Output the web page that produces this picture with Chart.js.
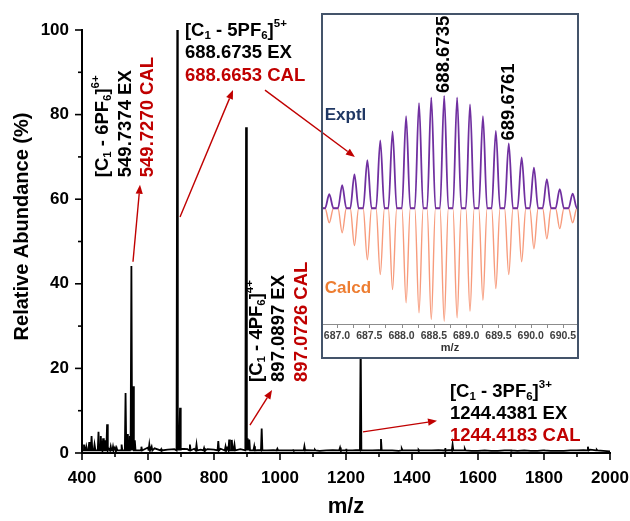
<!DOCTYPE html>
<html lang="en">
<head>
<meta charset="UTF-8">
<title>ESI-MS spectrum</title>
<script src="https://cdn.jsdelivr.net/npm/chart.js"></script>
<style>
  body { margin: 0; background: #fff; }
  #wrap { position: relative; width: 630px; height: 521px; }
  #main { position: absolute; left: 0; top: 0; }
  #insetBox { position: absolute; left: 321px; top: 13px; width: 258px; height: 346px;
              border: 2px solid #44546a; box-sizing: border-box; background: #fff; }
  #inset { display: block; }
</style>
</head>
<body>
<div id="wrap">
  <canvas id="main" width="630" height="521"></canvas>
  <div id="insetBox"><canvas id="inset" width="254" height="342"></canvas></div>
</div>

<script>
const FONT = '"Liberation Sans", Arial, sans-serif';
const RED = '#c00000';

// ---- main spectrum (m/z, relative abundance %)
const peakMz  = [406, 413, 422, 429, 438, 450, 457, 464, 470, 476, 487, 494, 505, 520, 532, 539, 545, 549.7, 555, 560,
                 580, 604, 611, 640, 688.7, 692, 697, 727, 747, 770, 813, 835, 846, 854, 862, 897.1, 902, 907, 922, 944.5,
                 992, 1040, 1074, 1106, 1182, 1200, 1244.4, 1306, 1369, 1420, 1500, 1523, 1560, 1700, 1800, 1933, 1960];
const peakAbd = [2, 1.5, 2.6, 4, 2, 5, 4, 3.5, 3, 6.8, 1.5, 1.5, 1.2, 2, 14.2, 4.5, 4, 44.2, 15.8, 3,
                 1.5, 2, 1.5, 1, 100, 3, 10.7, 2, 2, 1.2, 2.8, 1.5, 3.2, 3.1, 2, 77, 3.5, 3.2, 1.6, 5.8,
                 1, 0.8, 1.6, 0.8, 1.3, 1, 28, 3.3, 1, 0.8, 1.2, 2, 1, 0.8, 0.8, 1.5, 0.8];
// baseline noise, one value every 20 m/z from 400 to 2000
const noiseStart = 400, noiseStep = 20;
const noiseAbd = [0.6, 1.2, 1.0, 1.4, 1.1, 1.3, 0.9, 1.6, 1.2, 1.0, 1.3, 1.1, 0.9, 0.8, 0.9, 1.0, 0.9, 1.0, 0.8, 0.9,
                  0.8, 1.0, 1.2, 1.1, 0.9, 1.0, 0.8, 0.7, 0.6, 0.7, 0.6, 0.6, 0.7, 0.6, 0.7, 0.6, 0.5, 0.6, 0.7, 0.8,
                  0.7, 0.6, 0.7, 0.6, 0.6, 0.7, 0.6, 0.6, 0.5, 0.6, 0.6, 0.5, 0.6, 0.6, 0.7, 0.8, 0.7, 0.6, 0.6, 0.5,
                  0.5, 0.6, 0.5, 0.5, 0.6, 0.5, 0.5, 0.6, 0.5, 0.5, 0.6, 0.5, 0.5, 0.5, 0.6, 0.6, 0.7, 0.8, 0.6, 0.5, 0.4];
const xTicks = [400, 600, 800, 1000, 1200, 1400, 1600, 1800, 2000];
const yTicks = [0, 20, 40, 60, 80, 100];

// ---- inset: isotope pattern of [C1 - 5PF6]5+
const isoMz  = [686.88, 687.08, 687.27, 687.47, 687.67, 687.86, 688.07, 688.27, 688.46, 688.66,
                688.86, 689.06, 689.26, 689.46, 689.66, 689.86, 690.05, 690.25, 690.45, 690.65];
const exptl  = [12.4, 20.4, 30, 42.5, 60, 68, 81.4, 93, 98.2, 99.4, 98.2, 92, 81.4, 68.4, 57.3, 45, 36, 25.7, 17, 13];
const calcd  = [12.8, 21.6, 33, 45.5, 58.7, 72, 83.7, 92.6, 98.5, 100, 97, 91.2, 81.4, 71, 58.7, 47.3, 35.8, 27, 18, 12.8];
const isoLabels = [[9, '688.6735'], [14, '689.6761']];
const insetTicks = [687.0, 687.5, 688.0, 688.5, 689.0, 689.5, 690.0, 690.5];

// ---- annotations (anchored in data units of the main chart)
const notes = [
  { at: [463.6, 65.2], rot: true, gap: 22.5, lines: [
      [[['[C'], ['1', 'sub'], [' - 6PF'], ['6', 'sub'], [']'], ['6+', 'sup']], '#000'],
      [[['549.7374 EX']], '#000'],
      [[['549.7270 CAL']], RED]] },
  { at: [712, 99.8], rot: false, gap: 22.5, lines: [
      [[['[C'], ['1', 'sub'], [' - 5PF'], ['6', 'sub'], [']'], ['5+', 'sup']], '#000'],
      [[['688.6735 EX']], '#000'],
      [[['688.6653 CAL']], RED]] },
  { at: [929.4, 16.8], rot: true, gap: 22.5, lines: [
      [[['[C'], ['1', 'sub'], [' - 4PF'], ['6', 'sub'], [']'], ['4+', 'sup']], '#000'],
      [[['897.0897 EX']], '#000'],
      [[['897.0726 CAL']], RED]] },
  { at: [1515, 14.5], rot: false, gap: 22, lines: [
      [[['[C'], ['1', 'sub'], [' - 3PF'], ['6', 'sub'], [']'], ['3+', 'sup']], '#000'],
      [[['1244.4381 EX']], '#000'],
      [[['1244.4183 CAL']], RED]] }
];
const arrows = [
  { from: [554.5, 45.2], to: [575.8, 63.4] },
  { from: [697, 55.8], to: [857.6, 85.8] },
  { from: [954.5, 85.8], to: [1227, 70] },
  { from: [909, 6.6], to: [976, 14.9] },
  { from: [1251.5, 5], to: [1475.8, 7.6] }
];

function drawRich(ctx, segs, x, y, size, color) {
  let cx = x;
  ctx.fillStyle = color;
  segs.forEach(([t, mode]) => {
    const s = mode ? size * 0.62 : size;
    ctx.font = `bold ${s}px ${FONT}`;
    const dy = mode === 'sub' ? size * 0.28 : mode === 'sup' ? -size * 0.36 : 0;
    ctx.fillText(t, cx, y + dy);
    cx += ctx.measureText(t).width;
  });
}

function drawArrow(ctx, x0, y0, x1, y1) {
  const ang = Math.atan2(y1 - y0, x1 - x0);
  const hl = 9, hw = 3.6;
  ctx.strokeStyle = RED; ctx.fillStyle = RED; ctx.lineWidth = 1.4;
  ctx.beginPath();
  ctx.moveTo(x0, y0);
  ctx.lineTo(x1 - hl * Math.cos(ang), y1 - hl * Math.sin(ang));
  ctx.stroke();
  ctx.beginPath();
  ctx.moveTo(x1, y1);
  ctx.lineTo(x1 - hl * Math.cos(ang) + hw * Math.sin(ang), y1 - hl * Math.sin(ang) - hw * Math.cos(ang));
  ctx.lineTo(x1 - hl * Math.cos(ang) - hw * Math.sin(ang), y1 - hl * Math.sin(ang) + hw * Math.cos(ang));
  ctx.closePath();
  ctx.fill();
}

// main line points: baseline noise + one spike per peak
const mainPts = noiseAbd.map((v, i) => ({ x: noiseStart + noiseStep * i, y: v }));
peakMz.forEach((m, i) => {
  mainPts.push({ x: m - 2.2, y: 0.6 }, { x: m, y: peakAbd[i] }, { x: m + 2.2, y: 0.6 });
});
mainPts.sort((a, b) => a.x - b.x);

const mainDecor = {
  id: 'mainDecor',
  afterDraw(chart) {
    const { ctx, chartArea: a, scales: { x, y } } = chart;
    ctx.save();
    // axes + ticks
    ctx.strokeStyle = '#000'; ctx.lineWidth = 2;
    ctx.beginPath();
    ctx.moveTo(a.left, a.top - 1); ctx.lineTo(a.left, a.bottom); ctx.lineTo(a.right + 1, a.bottom);
    ctx.stroke();
    ctx.lineWidth = 1.6;
    xTicks.forEach((v, i) => {
      let px = x.getPixelForValue(v);
      ctx.beginPath(); ctx.moveTo(px, a.bottom); ctx.lineTo(px, a.bottom + 7); ctx.stroke();
      if (i < xTicks.length - 1) {
        px = x.getPixelForValue((v + xTicks[i + 1]) / 2);
        ctx.beginPath(); ctx.moveTo(px, a.bottom); ctx.lineTo(px, a.bottom + 4); ctx.stroke();
      }
    });
    yTicks.forEach((v, i) => {
      let py = y.getPixelForValue(v);
      ctx.beginPath(); ctx.moveTo(a.left, py); ctx.lineTo(a.left - 7, py); ctx.stroke();
      if (i < yTicks.length - 1) {
        py = y.getPixelForValue((v + yTicks[i + 1]) / 2);
        ctx.beginPath(); ctx.moveTo(a.left, py); ctx.lineTo(a.left - 4, py); ctx.stroke();
      }
    });
    // y title
    ctx.save();
    ctx.translate(22.5, 226.5); ctx.rotate(-Math.PI / 2);
    ctx.font = `bold 20px ${FONT}`; ctx.fillStyle = '#000';
    ctx.textAlign = 'center'; ctx.textBaseline = 'middle';
    ctx.fillText('Relative Abundance (%)', 0, 0);
    ctx.restore();
    // annotations
    ctx.textAlign = 'left'; ctx.textBaseline = 'middle';
    notes.forEach(n => {
      ctx.save();
      ctx.translate(x.getPixelForValue(n.at[0]), y.getPixelForValue(n.at[1]));
      if (n.rot) ctx.rotate(-Math.PI / 2);
      n.lines.forEach(([segs, col], i) => drawRich(ctx, segs, 0, i * n.gap, 18.5, col));
      ctx.restore();
    });
    arrows.forEach(r => drawArrow(ctx,
      x.getPixelForValue(r.from[0]), y.getPixelForValue(r.from[1]),
      x.getPixelForValue(r.to[0]), y.getPixelForValue(r.to[1])));
    ctx.restore();
  }
};

const mainChart = new Chart(document.getElementById('main'), {
  type: 'line',
  data: { datasets: [{ data: mainPts, borderColor: '#000', borderWidth: 1.8, pointRadius: 0, tension: 0 }] },
  options: {
    responsive: false,
    animation: false,
    events: [],
    layout: { padding: { left: 0, top: 30, right: 20, bottom: 0 } },
    plugins: { legend: { display: false }, tooltip: { enabled: false } },
    scales: {
      x: {
        type: 'linear', min: 400, max: 2000,
        grid: { display: false, drawTicks: false }, border: { display: false },
        afterBuildTicks: s => { s.ticks = xTicks.map(v => ({ value: v })); },
        afterFit: s => { s.height = 68; s.paddingLeft = 0; s.paddingRight = 0; },
        ticks: { font: { family: FONT, size: 17, weight: 'bold' }, color: '#000', padding: 15,
                 maxRotation: 0, autoSkip: false, callback: v => String(v) },
        title: { display: true, text: 'm/z', font: { family: FONT, size: 22, weight: 'bold' }, color: '#000',
                 padding: { top: 0, bottom: 1 } }
      },
      y: {
        min: 0, max: 100,
        grid: { display: false, drawTicks: false }, border: { display: false },
        afterBuildTicks: s => { s.ticks = yTicks.map(v => ({ value: v })); },
        afterFit: s => { s.width = 82; },
        ticks: { font: { family: FONT, size: 17, weight: 'bold' }, color: '#000', padding: 13,
                 callback: v => String(v) }
      }
    }
  },
  plugins: [mainDecor]
});

// ---- inset
function profile(vals, sign) {
  const pts = [{ x: 686.783, y: 0 }];
  isoMz.forEach((m, i) => {
    pts.push({ x: m - 0.065, y: 0 }, { x: m, y: sign * vals[i] }, { x: m + 0.065, y: 0 });
  });
  pts.push({ x: 690.717, y: 0 });
  return pts;
}

const insetDecor = {
  id: 'insetDecor',
  afterDraw(chart) {
    const { ctx, chartArea: a, scales: { x, y } } = chart;
    ctx.save();
    ctx.strokeStyle = '#8c8c8c'; ctx.lineWidth = 1;
    ctx.beginPath(); ctx.moveTo(a.left, a.bottom + 0.5); ctx.lineTo(a.right, a.bottom + 0.5); ctx.stroke();
    insetTicks.forEach((v, i) => {
      const marks = [v];
      if (i < insetTicks.length - 1) marks.push((v + insetTicks[i + 1]) / 2);
      marks.forEach(t => {
        const px = Math.round(x.getPixelForValue(t)) + 0.5;
        ctx.beginPath(); ctx.moveTo(px, a.bottom); ctx.lineTo(px, a.bottom + 4); ctx.stroke();
      });
    });
    // series names
    ctx.textAlign = 'left'; ctx.textBaseline = 'middle';
    ctx.font = `bold 17px ${FONT}`;
    ctx.fillStyle = '#203864';
    ctx.fillText('Exptl', x.getPixelForValue(686.81), y.getPixelForValue(82.6));
    ctx.fillStyle = '#ed7d31';
    ctx.fillText('Calcd', x.getPixelForValue(686.81), y.getPixelForValue(-70.5));
    // peak labels
    ctx.fillStyle = '#000';
    ctx.font = `bold 18.5px ${FONT}`;
    isoLabels.forEach(([i, t]) => {
      ctx.save();
      ctx.translate(x.getPixelForValue(isoMz[i]), y.getPixelForValue(exptl[i]) - 3);
      ctx.rotate(-Math.PI / 2);
      ctx.fillText(t, 0, 0);
      ctx.restore();
    });
    // arrow from the 5+ label that reaches into the inset
    const mr = mainChart.canvas.getBoundingClientRect();
    const ir = chart.canvas.getBoundingClientRect();
    const mx = mainChart.scales.x, my = mainChart.scales.y;
    const r = arrows[2];
    drawArrow(ctx,
      mx.getPixelForValue(r.from[0]) - (ir.left - mr.left), my.getPixelForValue(r.from[1]) - (ir.top - mr.top),
      mx.getPixelForValue(r.to[0]) - (ir.left - mr.left), my.getPixelForValue(r.to[1]) - (ir.top - mr.top));
    ctx.restore();
  }
};

new Chart(document.getElementById('inset'), {
  type: 'line',
  data: {
    datasets: [
      { label: 'Exptl', data: profile(exptl, 1), borderColor: '#7030a0', borderWidth: 1.8,
        pointRadius: 0, cubicInterpolationMode: 'monotone' },
      { label: 'Calcd', data: profile(calcd, -1), borderColor: '#f79b7c', borderWidth: 1.4,
        pointRadius: 0, cubicInterpolationMode: 'monotone' }
    ]
  },
  options: {
    responsive: false,
    animation: false,
    events: [],
    layout: { padding: 0 },
    plugins: { legend: { display: false }, tooltip: { enabled: false } },
    scales: {
      x: {
        type: 'linear', min: 686.783, max: 690.717,
        grid: { display: false, drawTicks: false }, border: { display: false },
        afterBuildTicks: s => { s.ticks = insetTicks.map(v => ({ value: v })); },
        afterFit: s => { s.height = 33; s.paddingLeft = 0; s.paddingRight = 0; },
        ticks: { font: { family: FONT, size: 10.5, weight: 'bold' }, color: '#404040', padding: 6,
                 maxRotation: 0, autoSkip: false, callback: v => v.toFixed(1) },
        title: { display: true, text: 'm/z', font: { family: FONT, size: 11, weight: 'bold' }, color: '#333',
                 padding: { top: 0, bottom: 2 } }
      },
      y: { display: false, min: -102.4, max: 171 }
    }
  },
  plugins: [insetDecor]
});
</script>
</body>
</html>
